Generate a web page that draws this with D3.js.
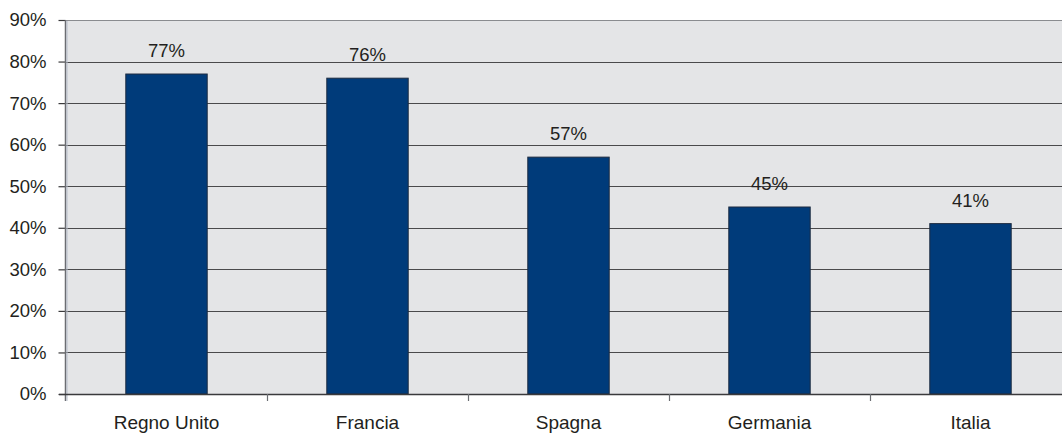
<!DOCTYPE html>
<html>
<head>
<meta charset="utf-8">
<script src="https://cdn.jsdelivr.net/npm/d3@7"></script>
<style>
  html, body { margin: 0; padding: 0; background: #ffffff; }
  svg { display: block; font-family: "Liberation Sans", Arial, sans-serif; }
</style>
</head>
<body>
<svg id="chart" width="1062" height="434"></svg>
<script>
// Countries and their shares
const categories = ["Regno Unito", "Francia", "Spagna", "Germania", "Italia"];
const values = [77, 76, 57, 45, 41];
const yTicks = [0, 10, 20, 30, 40, 50, 60, 70, 80, 90];

const svg = d3.select("#chart");
const plotLeft = 66, plotTop = 20, plotBottom = 394, plotRight = 1071;

const x = d3.scaleBand().domain(categories).range([plotLeft, plotRight]).paddingInner(0).paddingOuter(0);
const y = d3.scaleLinear().domain([0, 90]).range([plotBottom, plotTop]);

// plot background
svg.append("rect")
  .attr("x", plotLeft).attr("y", plotTop)
  .attr("width", plotRight - plotLeft).attr("height", plotBottom - plotTop)
  .attr("fill", "#e4e5e7");

// horizontal gridlines
svg.append("g").selectAll("line")
  .data(yTicks.filter(d => d > 0))
  .join("line")
  .attr("x1", plotLeft).attr("x2", plotRight)
  .attr("y1", d => Math.round(y(d)) + 0.5).attr("y2", d => Math.round(y(d)) + 0.5)
  .attr("stroke", "#4a4a4c").attr("stroke-width", 1.2);

// bars
const barW = x.bandwidth() * 0.405;
svg.append("g").selectAll("rect")
  .data(values)
  .join("rect")
  .attr("x", (d, i) => x(categories[i]) + (x.bandwidth() - barW) / 2)
  .attr("y", d => y(d))
  .attr("width", barW)
  .attr("height", d => plotBottom - y(d))
  .attr("fill", "#003b7a")
  .attr("stroke", "#1c2b40").attr("stroke-width", 1);

// value labels
svg.append("g").selectAll("text")
  .data(values)
  .join("text")
  .attr("x", (d, i) => x(categories[i]) + x.bandwidth() / 2)
  .attr("y", d => y(d) - 17)
  .attr("text-anchor", "middle")
  .attr("font-size", 18.5)
  .attr("fill", "#231f20")
  .text(d => d + "%");

// y axis
const yAxis = d3.axisLeft(y).tickValues(yTicks).tickFormat(d => d + "%").tickSize(7).tickPadding(12);
const gy = svg.append("g").attr("transform", `translate(${plotLeft - 0.5},0)`).call(yAxis);
gy.select(".domain").remove();
gy.selectAll(".tick line").attr("stroke", "#3a3a3c").attr("stroke-width", 1.2);
gy.selectAll(".tick text").attr("font-size", 18.5).attr("fill", "#231f20")
  .attr("font-family", "Liberation Sans, Arial, sans-serif");
svg.append("line")
  .attr("x1", plotLeft - 0.5).attr("x2", plotLeft - 0.5).attr("y1", plotTop).attr("y2", plotBottom + 7)
  .attr("stroke", "#6b6d72").attr("stroke-width", 1.5);
svg.append("line")
  .attr("x1", plotLeft + 1).attr("x2", plotLeft + 1).attr("y1", plotTop).attr("y2", plotBottom + 7)
  .attr("stroke", "#b8c0cc").attr("stroke-width", 1);

// top border of plot area
svg.append("line")
  .attr("x1", plotLeft).attr("x2", plotRight).attr("y1", plotTop + 0.5).attr("y2", plotTop + 0.5)
  .attr("stroke", "#8a8c90").attr("stroke-width", 1.2);

// x axis
const xAxis = d3.axisBottom(x).tickSize(0);
const gx = svg.append("g").attr("transform", `translate(0,${plotBottom})`).call(xAxis);
gx.select(".domain").remove();
gx.selectAll(".tick text")
  .attr("y", 35).attr("dy", 0)
  .attr("font-size", 19).attr("fill", "#231f20")
  .attr("font-family", "Liberation Sans, Arial, sans-serif");
svg.append("line")
  .attr("x1", plotLeft - 7).attr("x2", plotRight).attr("y1", plotBottom + 0.5).attr("y2", plotBottom + 0.5)
  .attr("stroke", "#3a3a3c").attr("stroke-width", 1.4);
// category separators below the axis
svg.append("g").selectAll("line")
  .data(categories.slice(1))
  .join("line")
  .attr("x1", d => x(d) + 0.5).attr("x2", d => x(d) + 0.5)
  .attr("y1", plotBottom).attr("y2", plotBottom + 7)
  .attr("stroke", "#6b6d72").attr("stroke-width", 1.2);
</script>
</body>
</html>
